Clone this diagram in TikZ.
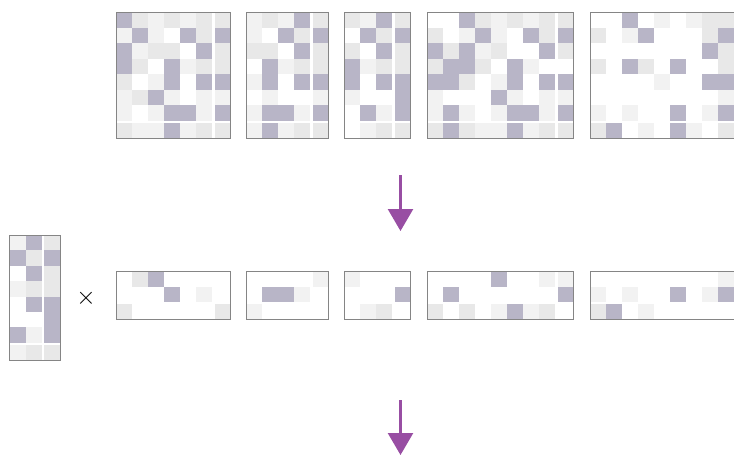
\documentclass[tikz,border=0pt]{standalone}
\usetikzlibrary{arrows.meta}
\definecolor{cD}{HTML}{B8B5C7}
\definecolor{cL}{HTML}{E8E8E8}
\definecolor{cV}{HTML}{F2F2F2}
\definecolor{cW}{HTML}{FFFFFF}
\definecolor{framegray}{HTML}{858585}
\definecolor{arrowpurple}{HTML}{984EA3}
\tikzset{
  frame/.style={draw=framegray, line width=1pt},
  flowarrow/.style={arrowpurple, line width=2.5pt, -{Triangle[width=25pt,length=22pt]}},
}
% #1 x0, #2 y0, #3 cell width, #4 cell height, #5 ncols, #6 nrows, #7 rows
\newcommand{\cellgrid}[7]{%
  \foreach \row [count=\i] in {#7} {
    \foreach \k [count=\j] in \row {
      \pgfmathsetmacro\xx{#1 + (\j-1)*#3 + ((\j==#5) ? 2.5 : 0)}
      \pgfmathsetmacro\yy{#2 + (\i-1)*#4 + ((\i==#6) ? 2.2 : 0)}
      \fill[c\k] (\xx,\yy) rectangle ++(#3,#4);
    }
  }
  \pgfmathsetmacro\xe{#1 + #5*#3 + 2.5}
  \pgfmathsetmacro\ye{#2 + #6*#4 + 2.2}
  \ifnum#5<50 \draw[frame] (#1,#2) rectangle (\xe,\ye);\fi
}
\begin{document}
\begin{tikzpicture}[x=1pt,y=-1pt]
\useasboundingbox (0,0) rectangle (734,455);
\fill[white] (0,0) rectangle (734,455);
\clip (0,0) rectangle (734,455);

% ---- top row ----
\cellgrid{116}{12}{16}{15.5}{7}{8}{{D,L,V,L,V,L,L},{V,D,V,W,D,L,D},{D,V,L,L,W,D,L},{D,L,W,D,V,L,L},{L,W,V,D,W,D,D},{V,L,D,V,W,V,V},{V,W,V,D,D,V,D},{L,V,V,D,V,L,L}}
\cellgrid{246}{12}{16}{15.5}{5}{8}{{V,L,V,D,L},{V,W,D,L,D},{L,L,W,D,L},{W,D,V,L,L},{V,D,W,D,D},{W,V,W,W,V},{V,D,D,V,D},{V,D,V,L,L}}
\cellgrid{344}{12}{16}{15.5}{4}{8}{{L,V,D,L},{W,D,L,D},{L,W,D,L},{D,V,L,L},{D,W,D,D},{V,W,W,D},{W,D,V,D},{W,V,L,L}}
\cellgrid{427.3}{12}{16}{15.5}{9}{8}{{W,W,D,L,V,L,V,L,L},{L,W,V,D,V,W,D,L,D},{D,L,D,V,L,W,W,D,L},{L,D,D,L,W,D,V,W,W},{D,D,L,W,V,D,W,D,D},{V,W,W,W,D,V,W,V,V},{V,D,V,W,V,D,D,V,D},{L,D,L,V,V,D,V,L,L}}
\cellgrid{590}{12}{16}{15.5}{99}{8}{{W,W,D,W,V,W,V,L,L},{L,W,V,D,W,W,W,L,D},{W,W,W,W,W,W,W,D,L},{L,W,D,L,W,D,W,W,L},{W,W,W,W,V,W,W,D,D},{W,W,W,W,W,W,W,W,V},{V,W,V,W,W,D,W,V,D},{L,D,W,V,W,D,V,W,L}}
\draw[frame] (734,12) -- (590,12) -- (590,138.2) -- (734,138.2);

% ---- arrows ----
\coordinate (a1s) at (400.5,175);
\coordinate (a1e) at (400.5,231);
\coordinate (a2s) at (400.5,400);
\coordinate (a2e) at (400.5,455);
\draw[flowarrow] (a1s) -- (a1e);
\draw[flowarrow] (a2s) -- (a2e);

% ---- left column matrix ----
\cellgrid{9.3}{235}{16.3}{15.4}{3}{8}{{V,D,L},{D,L,D},{W,D,L},{V,L,L},{W,D,D},{W,W,D},{D,V,D},{V,L,L}}
\node[inner sep=0pt, font=\fontsize{30}{34}\selectfont] (times) at (86,298) {$\times$};

% ---- middle row ----
\cellgrid{116}{271}{16}{15.5}{7}{3}{{W,L,D,W,W,W,W},{W,W,W,D,W,V,W},{L,W,W,W,W,W,L}}
\cellgrid{246}{271}{16}{15.5}{5}{3}{{W,W,W,W,V},{W,D,D,V,W},{V,W,W,W,W}}
\cellgrid{344}{271}{16}{15.5}{4}{3}{{V,W,W,W},{W,W,W,D},{W,V,L,W}}
\cellgrid{427.3}{271}{16}{15.5}{9}{3}{{W,W,W,W,D,W,W,V,V},{W,D,W,W,W,W,W,W,D},{L,W,L,W,V,D,V,L,W}}
\cellgrid{590}{271}{16}{15.5}{99}{3}{{W,W,W,W,W,W,W,W,V},{V,W,V,W,W,D,W,V,D},{L,D,W,V,W,W,W,W,W}}
\draw[frame] (734,271) -- (590,271) -- (590,319.7) -- (734,319.7);
\end{tikzpicture}
\end{document}
